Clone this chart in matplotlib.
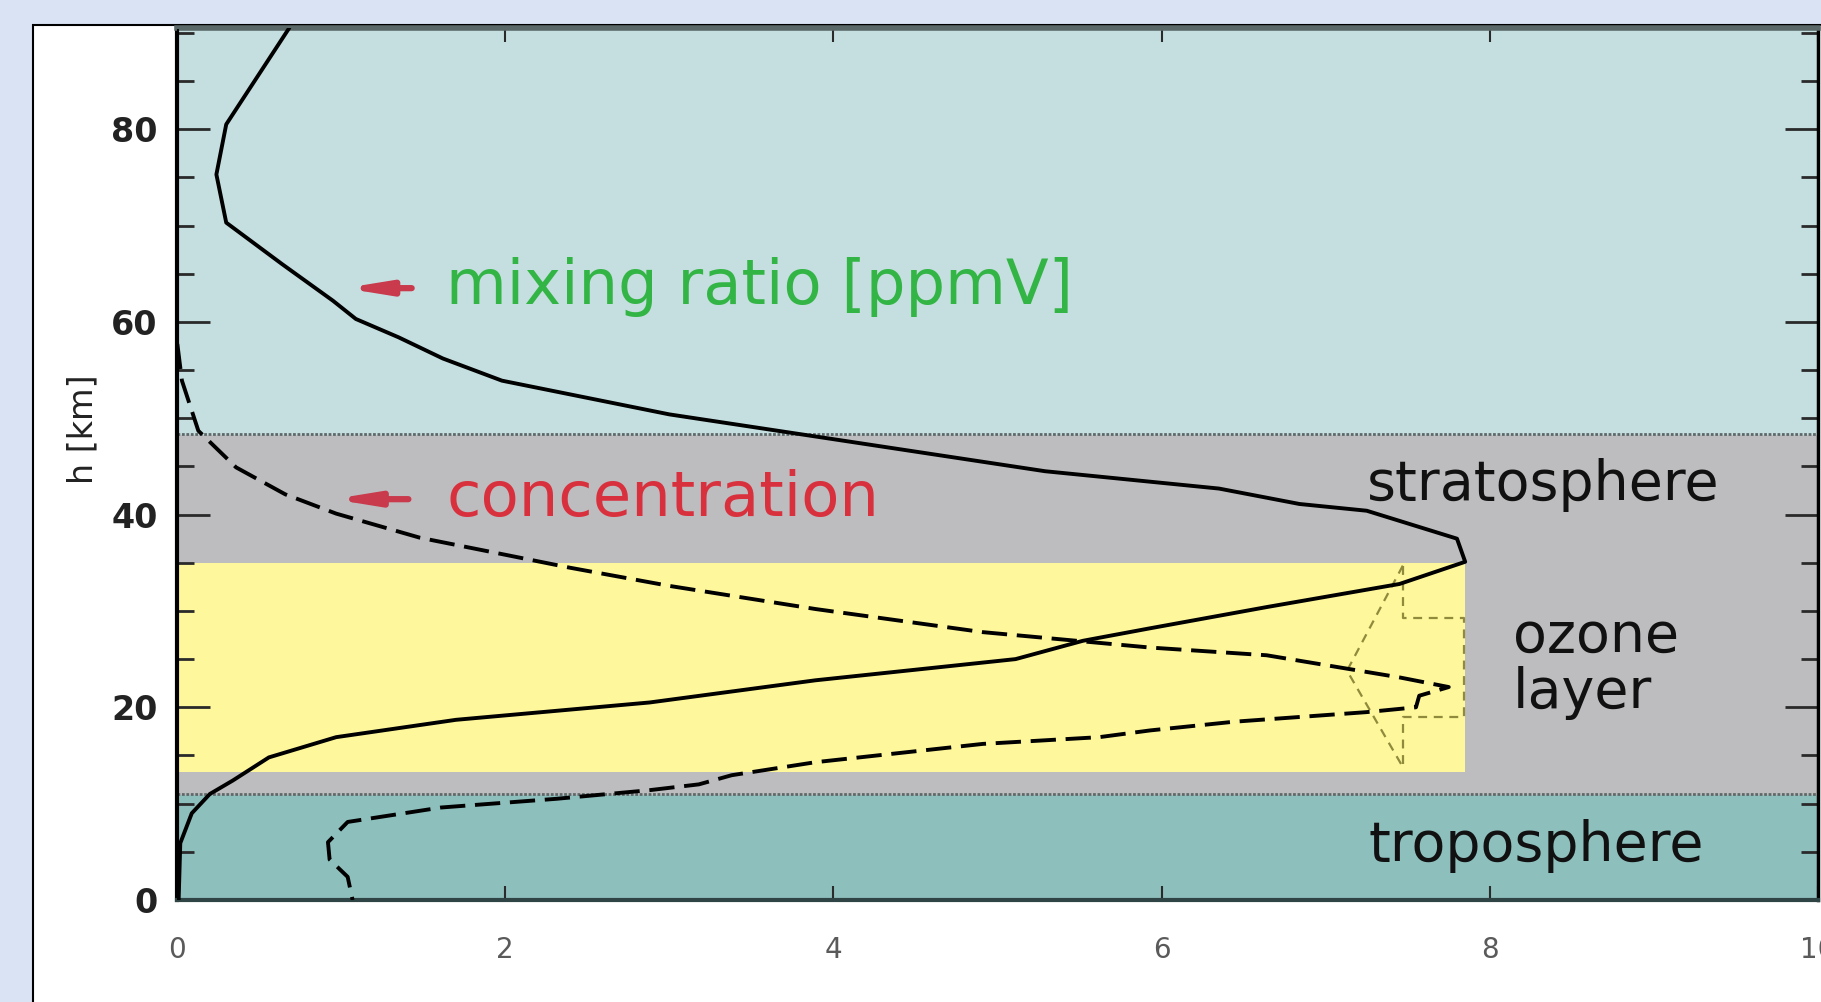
import numpy as np
import matplotlib.pyplot as plt
from matplotlib.patches import Rectangle

# ozone profile (x in ppmV / arbitrary, h in km)
mix_h = [90.4, 80.5, 75.3, 70.3, 66.0, 62.2, 60.3, 58.4, 56.2, 53.9, 50.4, 47.8, 44.5,
         42.7, 41.1, 40.4, 37.5, 35.1, 32.8, 30.4, 28.2, 26.9, 25.0, 22.8, 20.5, 18.7,
         16.9, 14.8, 12.4, 11.0, 9.0, 5.9, 0.0]
mix_x = [0.68, 0.30, 0.24, 0.30, 0.64, 0.95, 1.09, 1.35, 1.62, 1.98, 3.00, 4.01, 5.29,
         6.35, 6.84, 7.25, 7.80, 7.85, 7.45, 6.64, 5.93, 5.52, 5.11, 3.89, 2.88, 1.70,
         0.97, 0.56, 0.34, 0.20, 0.09, 0.02, 0.01]

conc_h = [90.4, 58.0, 53.9, 48.7, 44.9, 42.1, 40.1, 37.6, 35.9, 34.5, 32.6, 30.2, 27.8,
          26.2, 25.4, 23.1, 22.1, 21.2, 20.0, 19.5, 18.5, 17.6, 16.9, 16.2, 14.3, 12.95,
          12.0, 11.4, 10.5, 9.6, 8.1, 6.0, 4.2, 2.4, 0.0]
conc_x = [0.0, 0.0, 0.03, 0.13, 0.36, 0.66, 0.97, 1.48, 1.98, 2.39, 3.00, 3.89, 4.91,
          5.93, 6.64, 7.45, 7.75, 7.57, 7.55, 7.25, 6.44, 5.93, 5.62, 4.91, 3.89, 3.38,
          3.18, 2.88, 2.31, 1.61, 1.04, 0.92, 0.93, 1.04, 1.07]

# thin dashed marks around the ozone maximum
box_x = [7.47, 7.47, 7.84, 7.84, 7.47, 7.47]
box_h = [34.7, 29.3, 29.3, 19.0, 19.0, 13.8]
tri_x = [7.47, 7.13, 7.47]
tri_h = [34.7, 23.8, 13.8]

# atmospheric layers (km)
tropo_top = 11.0
strato_top = 48.4
h_top = 90.5
ozone_bottom, ozone_top, ozone_xmax = 13.3, 34.95, 7.85

x_ticks = [0, 2, 4, 6, 8, 10]
x_tick_labels = ['0', '2', '4', '6', '8', '10']
y_ticks = [0, 20, 40, 60, 80]
y_tick_labels = ['0', '20', '40', '60', '80']
y_minor = np.arange(0, 91, 5)

fig = plt.figure(figsize=(18.21, 10.02), dpi=100)
fig.patch.set_facecolor('#dae3f3')
fig.add_artist(Rectangle((33/1821, -0.05), 1.0, 1.05 - 25/1002, transform=fig.transFigure,
                         facecolor='white', edgecolor='black', lw=1.5, zorder=0))

ax = fig.add_axes([177/1821, 1 - 900/1002, (1818 - 177)/1821, (900 - 28)/1002])

# background layers
ax.axhspan(0, tropo_top, color='#8dbfbd', zorder=0)
ax.axhspan(tropo_top, strato_top, color='#bdbdbf', zorder=0)
ax.axhspan(strato_top, h_top, color='#c5dfe0', zorder=0)
ax.add_patch(Rectangle((0, ozone_bottom), ozone_xmax, ozone_top - ozone_bottom,
                       facecolor='#fef79b', edgecolor='none', zorder=1))
for hb in [tropo_top, strato_top]:
    ax.axhline(hb, color='#5f6868', lw=2, ls=(0, (1, 0.6)), zorder=2)

# profiles
ax.plot(box_x, box_h, color='#8f8a3c', lw=1.6, dashes=(4, 3), zorder=3)
ax.plot(tri_x, tri_h, color='#8f8a3c', lw=1.6, dashes=(4, 3), zorder=3)
ax.plot(mix_x, mix_h, color='black', lw=2.8, zorder=4, solid_joinstyle='round')
ax.plot(conc_x, conc_h, color='black', lw=2.8, dashes=(6.5, 2.5), zorder=4)

# labels
arrow = dict(arrowstyle='-|>,head_length=0.8,head_width=0.13', lw=4.5,
             color='#c83a4c', mutation_scale=30, shrinkA=0, shrinkB=0)
ax.annotate('', xy=(1.02, 63.5), xytext=(1.43, 63.5), arrowprops=arrow)
ax.annotate('', xy=(0.95, 41.6), xytext=(1.41, 41.6), arrowprops=arrow)
ax.text(1.64, 63.6, 'mixing ratio [ppmV]', color='#33b545', fontsize=45, va='center', ha='left')
ax.text(1.64, 41.6, 'concentration', color='#d9303e', fontsize=45, va='center', ha='left')
ax.text(7.25, 43.1, 'stratosphere', color='#111111', fontsize=40, va='center', ha='left')
ax.text(8.14, 24.4, 'ozone\nlayer', color='#111111', fontsize=40, va='center', ha='left',
        linespacing=1.05)
ax.text(7.26, 5.6, 'troposphere', color='#111111', fontsize=40, va='center', ha='left')

ax.set_xlim(0, 10)
ax.set_ylim(0, h_top)
ax.set_xticks(x_ticks)
ax.set_xticklabels(x_tick_labels)
ax.set_yticks(y_ticks)
ax.set_yticklabels(y_tick_labels, fontweight='bold')
ax.set_yticks(y_minor, minor=True)

ax.tick_params(which='both', direction='in', top=True, right=True, colors='#2a2a2a')
ax.tick_params(axis='y', which='major', length=24, width=2, pad=14, labelsize=24,
               labelcolor='#222222')
ax.tick_params(axis='y', which='minor', length=12, width=2)
ax.tick_params(axis='x', which='major', length=10, width=1.5, pad=26, labelsize=20,
               labelcolor='#5a5a5a')

ax.set_ylabel('h [km]', fontsize=24, color='#222222')
ax.yaxis.set_label_coords(-0.047, 0.54)

ax.spines['left'].set_linewidth(3)
ax.spines['left'].set_color('black')
ax.spines['bottom'].set_linewidth(3)
ax.spines['bottom'].set_color('#2f4545')
ax.spines['top'].set_linewidth(4)
ax.spines['top'].set_color('#5a6868')
ax.spines['right'].set_linewidth(2.5)
ax.spines['right'].set_color('black')

fig.savefig('out.png', dpi=100, facecolor=fig.get_facecolor())
